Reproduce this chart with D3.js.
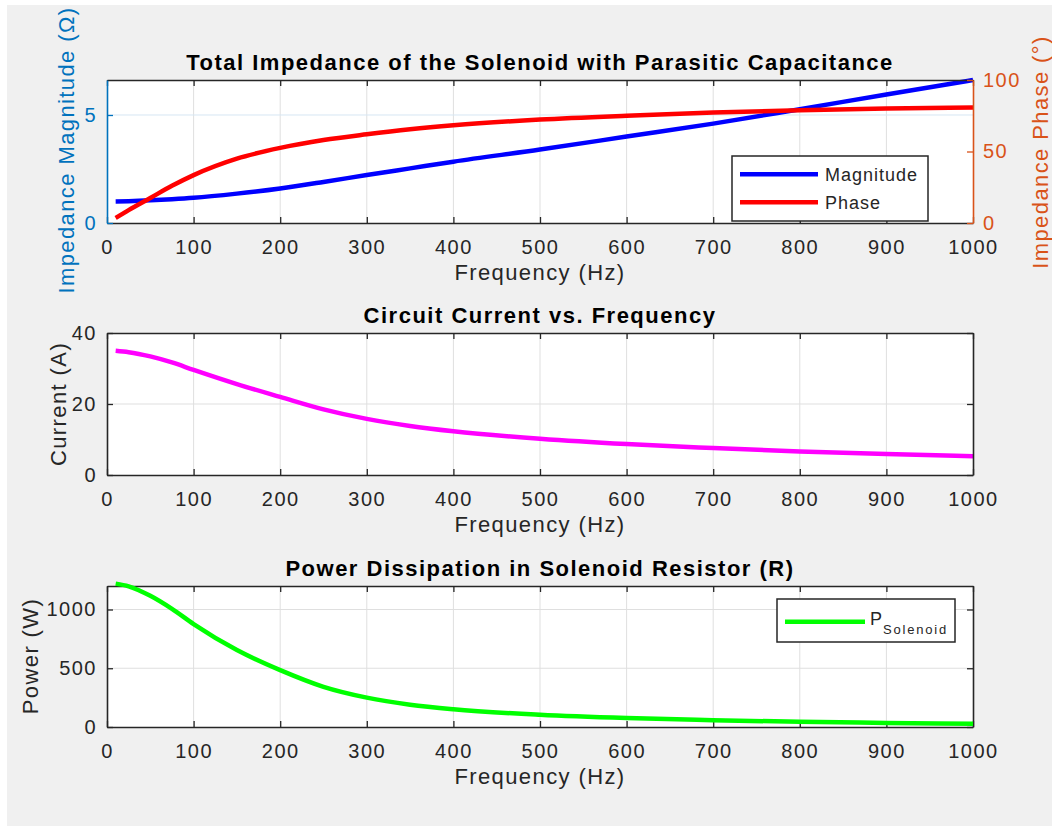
<!DOCTYPE html>
<html><head><meta charset="utf-8">
<script src="https://cdn.jsdelivr.net/npm/d3@7"></script>
<style>
html,body{margin:0;padding:0;background:#fff;}
svg{display:block;}
text{font-family:"Liberation Sans",Arial,Helvetica,sans-serif;}
</style></head>
<body>
<svg id="chart" width="1052" height="826"></svg>
<script>
// ---- data ----
const freq      = [10, 25, 50, 75, 100, 150, 200, 250, 300, 350, 400, 500, 600, 700, 800, 900, 1000];
const magnitude = [1.00, 1.012, 1.048, 1.10, 1.165, 1.36, 1.60, 1.90, 2.22, 2.53, 2.84, 3.40, 4.00, 4.60, 5.27, 5.95, 6.62];
const phase     = [3.5, 9, 17.5, 26, 33.5, 45, 52.5, 58, 62, 65.5, 68.3, 72.3, 75.0, 77.2, 78.8, 80.0, 80.8];
const current   = [35.0, 34.6, 33.4, 31.7, 29.6, 25.6, 22.0, 18.5, 15.8, 13.8, 12.3, 10.2, 8.7, 7.6, 6.65, 5.9, 5.3];
const power     = [1220, 1197, 1116, 1005, 876, 655, 484, 342, 250, 190, 151, 104, 76, 58, 44, 35, 28];
const xTicks    = [0, 100, 200, 300, 400, 500, 600, 700, 800, 900, 1000];
const magTicks  = [0, 5];
const phaseTicks= [0, 50, 100];
const curTicks  = [0, 20, 40];
const powTicks  = [0, 500, 1000];

const titles = ["Total Impedance of the Solenoid with Parasitic Capacitance",
                "Circuit Current vs. Frequency",
                "Power Dissipation in Solenoid Resistor (R)"];
const xLabel = "Frequency (Hz)";

// ---- styling ----
const FONT = '"Liberation Sans",Arial,Helvetica,sans-serif';
const AX = "#262626", GRID = "#dfdfdf";
const BLUEAX = "#0072BD", ORANGEAX = "#D95319";
const fmt = d3.format("d");

const svg = d3.select("#chart");
svg.append("rect").attr("x",7).attr("y",5).attr("width",1045).attr("height",821).attr("fill","#f0f0f0");

const X0 = 107, X1 = 973;
const x = d3.scaleLinear().domain([0,1000]).range([X0,X1]);

const panels = [
  {top:80,  bottom:223},
  {top:333, bottom:475},
  {top:586, bottom:727}
];

function frame(p, i){
  const g = svg.append("g");
  g.append("rect").attr("x",X0).attr("y",p.top).attr("width",X1-X0).attr("height",p.bottom-p.top).attr("fill","#fff");
  g.selectAll(".vg").data(xTicks.slice(1,-1)).join("line")
    .attr("x1",d=>x(d)).attr("x2",d=>x(d)).attr("y1",p.top).attr("y2",p.bottom)
    .attr("stroke",GRID).attr("stroke-width",1);
  svg.append("text").attr("x",(X0+X1)/2).attr("y",p.top-10.5).attr("text-anchor","middle")
    .attr("font-size",22).attr("font-weight","bold").attr("letter-spacing",1.5).attr("fill","#000")
    .text(titles[i]);
  svg.append("text").attr("x",(X0+X1)/2).attr("y",p.bottom+57).attr("text-anchor","middle")
    .attr("font-size",22).attr("letter-spacing",1.4).attr("fill",AX).text(xLabel);
  return g;
}

function styleAxis(sel, color, labelColor){
  sel.selectAll("path").attr("stroke",color).attr("stroke-width",1.6);
  sel.selectAll("line").attr("stroke",color).attr("stroke-width",1.3);
  sel.selectAll("text").attr("fill",labelColor||color).attr("font-size",20)
     .attr("letter-spacing",1.5).attr("font-family",FONT);
}

function xAxes(p){
  const b = svg.append("g").attr("transform",`translate(0,${p.bottom})`)
    .call(d3.axisBottom(x).tickValues(xTicks).tickSizeInner(-6).tickSizeOuter(0).tickPadding(17).tickFormat(fmt));
  styleAxis(b, AX);
  const t = svg.append("g").attr("transform",`translate(0,${p.top})`)
    .call(d3.axisTop(x).tickValues(xTicks).tickSizeInner(-6).tickSizeOuter(0).tickFormat(""));
  styleAxis(t, AX);
}

function yLabel(text, cx, cy, color){
  svg.append("text").attr("transform",`translate(${cx},${cy}) rotate(-90)`)
    .attr("text-anchor","middle").attr("dominant-baseline","central")
    .attr("font-size",22).attr("letter-spacing",1.4).attr("fill",color).text(text);
}

const mkLine = (ys)=>d3.line().x((d,i)=>x(freq[i])).y(d=>ys(d)).curve(d3.curveMonotoneX);

// ---------- Panel 1 ----------
{
  const p = panels[0];
  const g = frame(p,0);
  const yL = d3.scaleLinear().domain([0,6.62]).range([p.bottom,p.top]);
  const yR = d3.scaleLinear().domain([0,100]).range([p.bottom,p.top]);
  g.append("line").attr("x1",X0).attr("x2",X1).attr("y1",yL(5)).attr("y2",yL(5))
    .attr("stroke","#d6e6f3").attr("stroke-width",1);
  g.append("path").attr("d",mkLine(yL)(magnitude)).attr("fill","none").attr("stroke","#0000ff").attr("stroke-width",4.5);
  g.append("path").attr("d",mkLine(yR)(phase)).attr("fill","none").attr("stroke","#ff0000").attr("stroke-width",4.5);
  xAxes(p);
  const l = svg.append("g").attr("transform",`translate(${X0},0)`)
    .call(d3.axisLeft(yL).tickValues(magTicks).tickSizeInner(-6).tickSizeOuter(0).tickPadding(10).tickFormat(fmt));
  styleAxis(l, BLUEAX);
  const r = svg.append("g").attr("transform",`translate(${X1},0)`)
    .call(d3.axisRight(yR).tickValues(phaseTicks).tickSizeInner(-6).tickSizeOuter(0).tickPadding(10).tickFormat(fmt));
  styleAxis(r, ORANGEAX);
  yLabel("Impedance Magnitude (Ω)", 66, 150, BLUEAX);
  yLabel("Impedance Phase (°)", 1040, 152, ORANGEAX);
  const lg = svg.append("g").attr("transform","translate(732,156)");
  lg.append("rect").attr("width",196).attr("height",65).attr("fill","#fff").attr("stroke",AX).attr("stroke-width",1.5);
  const items = [["Magnitude","#0000ff"],["Phase","#ff0000"]];
  items.forEach((it,k)=>{
    const yy = 18.3 + k*28;
    lg.append("line").attr("x1",8).attr("x2",86).attr("y1",yy).attr("y2",yy).attr("stroke",it[1]).attr("stroke-width",4.5);
    lg.append("text").attr("x",93).attr("y",yy+6.5).attr("font-size",18).attr("letter-spacing",1)
      .attr("fill",AX).text(it[0]);
  });
}

// ---------- Panel 2 ----------
{
  const p = panels[1];
  const g = frame(p,1);
  const y = d3.scaleLinear().domain([0,40]).range([p.bottom,p.top]);
  g.selectAll(".hg").data(curTicks.slice(1,-1)).join("line")
    .attr("x1",X0).attr("x2",X1).attr("y1",d=>y(d)).attr("y2",d=>y(d)).attr("stroke",GRID);
  g.append("path").attr("d",mkLine(y)(current))
    .attr("fill","none").attr("stroke","#ff00ff").attr("stroke-width",4.5);
  xAxes(p);
  const l = svg.append("g").attr("transform",`translate(${X0},0)`)
    .call(d3.axisLeft(y).tickValues(curTicks).tickSizeInner(-6).tickSizeOuter(0).tickPadding(10).tickFormat(fmt));
  styleAxis(l, AX);
  const r = svg.append("g").attr("transform",`translate(${X1},0)`)
    .call(d3.axisRight(y).tickValues(curTicks).tickSizeInner(-6).tickSizeOuter(0).tickFormat(""));
  styleAxis(r, AX);
  yLabel("Current (A)", 58, 404, AX);
}

// ---------- Panel 3 ----------
{
  const p = panels[2];
  const g = frame(p,2);
  const y = d3.scaleLinear().domain([0,1200]).range([p.bottom,p.top]);
  g.selectAll(".hg").data(powTicks.slice(1)).join("line")
    .attr("x1",X0).attr("x2",X1).attr("y1",d=>y(d)).attr("y2",d=>y(d)).attr("stroke",GRID);
  xAxes(p);
  const l = svg.append("g").attr("transform",`translate(${X0},0)`)
    .call(d3.axisLeft(y).tickValues(powTicks).tickSizeInner(-6).tickSizeOuter(0).tickPadding(10).tickFormat(fmt));
  styleAxis(l, AX);
  const r = svg.append("g").attr("transform",`translate(${X1},0)`)
    .call(d3.axisRight(y).tickValues(powTicks).tickSizeInner(-6).tickSizeOuter(0).tickFormat(""));
  styleAxis(r, AX);
  svg.append("path").attr("d",mkLine(y)(power))
    .attr("fill","none").attr("stroke","#00ff00").attr("stroke-width",4.5);
  yLabel("Power (W)", 30, 656, AX);
  const lg = svg.append("g").attr("transform","translate(777,599)");
  lg.append("rect").attr("width",178).attr("height",43).attr("fill","#fff").attr("stroke",AX).attr("stroke-width",1.5);
  lg.append("line").attr("x1",8).attr("x2",88).attr("y1",22.7).attr("y2",22.7).attr("stroke","#00ff00").attr("stroke-width",4.5);
  const t = lg.append("text").attr("x",93).attr("y",26).attr("font-size",18).attr("letter-spacing",1).attr("fill",AX);
  t.append("tspan").text("P");
  t.append("tspan").attr("dy",9).attr("font-size",13).attr("letter-spacing",1.8).text("Solenoid");
}
</script>
</body></html>
